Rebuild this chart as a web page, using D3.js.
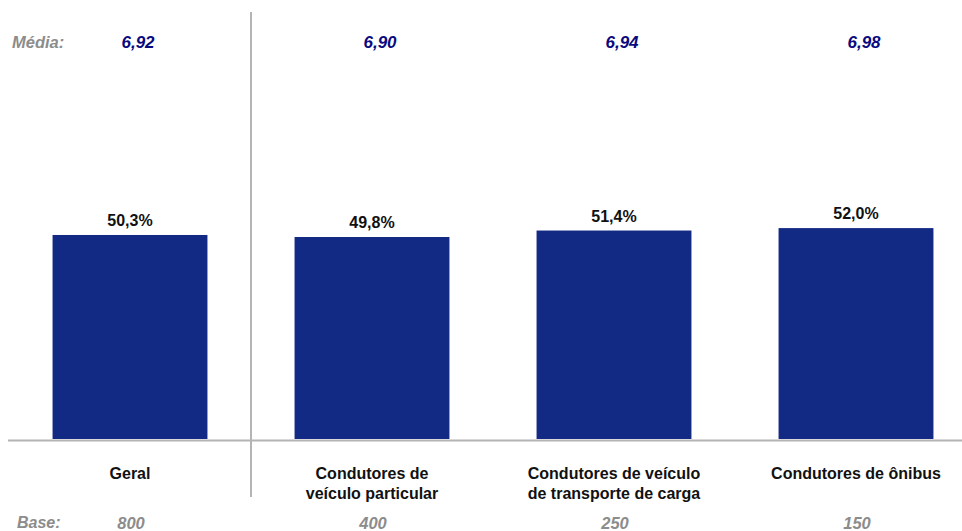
<!DOCTYPE html>
<html>
<head>
<meta charset="utf-8">
<script src="https://cdn.jsdelivr.net/npm/d3@7"></script>
<style>
  body { margin: 0; background: #fff; }
  svg { font-family: "Liberation Sans", Arial, sans-serif; }
</style>
</head>
<body>
<svg id="chart" width="962" height="531"></svg>
<script>
let categories = ["Geral", "Condutores de\nveículo particular", "Condutores de veículo\nde transporte de carga", "Condutores de ônibus"];
let values = [50.3, 49.8, 51.4, 52.0];
let medias = ["6,92", "6,90", "6,94", "6,98"];
let bases = ["800", "400", "250", "150"];

let svg = d3.select("#chart");

let x = d3.scaleBand()
    .domain(categories)
    .range([9, 977])
    .paddingInner(0.36)
    .paddingOuter(0.18);

let y = d3.scaleLinear()
    .domain([0, 100])
    .range([439, 33.4]);

// bars
svg.selectAll("rect.bar")
    .data(values)
    .enter()
    .append("rect")
    .attr("class", "bar")
    .attr("x", (d, i) => x(categories[i]))
    .attr("y", d => y(d))
    .attr("width", x.bandwidth())
    .attr("height", d => y(0) - y(d))
    .attr("fill", "#132a84");

// value labels
svg.selectAll("text.val")
    .data(values)
    .enter()
    .append("text")
    .attr("class", "val")
    .attr("x", (d, i) => x(categories[i]) + x.bandwidth() / 2)
    .attr("y", d => y(d) - 9)
    .attr("text-anchor", "middle")
    .attr("font-size", 16)
    .attr("font-weight", "bold")
    .attr("fill", "#111")
    .text(d => d.toFixed(1).replace(".", ",") + "%");

// baseline and separator
svg.append("line")
    .attr("x1", 8).attr("x2", 962)
    .attr("y1", 440.5).attr("y2", 440.5)
    .attr("stroke", "#b4b4b4").attr("stroke-width", 2);

svg.append("line")
    .attr("x1", 251).attr("x2", 251)
    .attr("y1", 12).attr("y2", 497)
    .attr("stroke", "#b4b4b4").attr("stroke-width", 2);

// category labels
let cat = svg.selectAll("text.cat")
    .data(categories)
    .enter()
    .append("text")
    .attr("class", "cat")
    .attr("text-anchor", "middle")
    .attr("font-size", 16)
    .attr("font-weight", "bold")
    .attr("fill", "#111");

cat.selectAll("tspan")
    .data(d => d.split("\n").map(t => ({ t: t, c: d })))
    .enter()
    .append("tspan")
    .attr("x", d => x(d.c) + x.bandwidth() / 2)
    .attr("y", (d, i) => 479 + i * 20)
    .text(d => d.t);

// Média row
svg.append("text")
    .attr("x", 12).attr("y", 48)
    .attr("font-size", 16.5)
    .attr("font-weight", "bold")
    .attr("font-style", "italic")
    .attr("fill", "#8c8c8c")
    .text("Média:");

svg.selectAll("text.media")
    .data(medias)
    .enter()
    .append("text")
    .attr("class", "media")
    .attr("x", (d, i) => x(categories[i]) + x.bandwidth() / 2 + 8)
    .attr("y", 48)
    .attr("text-anchor", "middle")
    .attr("font-size", 17)
    .attr("font-weight", "bold")
    .attr("font-style", "italic")
    .attr("fill", "#0a0a80")
    .text(d => d);

// Base row
svg.append("text")
    .attr("x", 17).attr("y", 528)
    .attr("font-size", 16)
    .attr("font-weight", "bold")
    .attr("font-style", "italic")
    .attr("fill", "#8c8c8c")
    .text("Base:");

svg.selectAll("text.base")
    .data(bases)
    .enter()
    .append("text")
    .attr("class", "base")
    .attr("x", (d, i) => x(categories[i]) + x.bandwidth() / 2 + 1)
    .attr("y", 529)
    .attr("text-anchor", "middle")
    .attr("font-size", 16.5)
    .attr("font-weight", "bold")
    .attr("font-style", "italic")
    .attr("fill", "#8c8c8c")
    .text(d => d);
</script>
</body>
</html>
